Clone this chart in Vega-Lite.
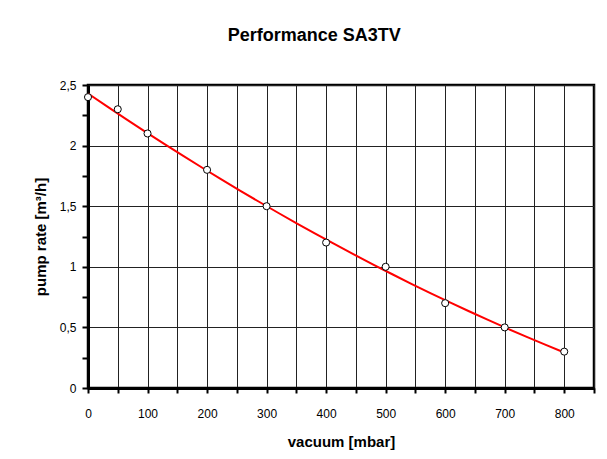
{
  "$schema": "https://vega.github.io/schema/vega-lite/v6.json",
  "width": 506,
  "height": 303,
  "padding": {"left": 33, "top": 27, "right": 13, "bottom": 5},
  "background": "white",
  "title": {
    "text": "Performance SA3TV",
    "font": "Liberation Sans",
    "fontSize": 18,
    "fontWeight": "bold",
    "color": "black",
    "anchor": "middle",
    "frame": "bounds",
    "offset": 34
  },
  "config": {
    "view": {"stroke": "black", "strokeWidth": 2.5},
    "axis": {
      "labelFont": "Liberation Sans",
      "labelFontSize": 12,
      "labelColor": "black",
      "titleFont": "Liberation Sans",
      "titleFontSize": 15,
      "titleFontWeight": "bold",
      "titleColor": "black",
      "domainColor": "black",
      "domainWidth": 3,
      "tickColor": "black",
      "tickWidth": 2,
      "gridColor": "#222222",
      "gridWidth": 1
    }
  },
  "data": {
    "values": [
      {"vacuum": 0, "pump": 2.4},
      {"vacuum": 50, "pump": 2.3},
      {"vacuum": 100, "pump": 2.1},
      {"vacuum": 200, "pump": 1.8},
      {"vacuum": 300, "pump": 1.5},
      {"vacuum": 400, "pump": 1.2},
      {"vacuum": 500, "pump": 1.0},
      {"vacuum": 600, "pump": 0.7},
      {"vacuum": 700, "pump": 0.5},
      {"vacuum": 800, "pump": 0.3}
    ]
  },
  "encoding": {
    "x": {
      "field": "vacuum",
      "type": "quantitative",
      "scale": {"domain": [0, 850], "nice": false},
      "axis": {
        "title": "vacuum [mbar]",
        "values": [0, 50, 100, 150, 200, 250, 300, 350, 400, 450, 500, 550, 600, 650, 700, 750, 800, 850],
        "labelExpr": "datum.value % 100 == 0 && datum.value <= 800 ? datum.value : ''",
        "tickSize": 5,
        "labelPadding": 15,
        "titlePadding": 15,
        "grid": true,
        "labelFlush": false,
        "labelOverlap": false
      }
    },
    "y": {
      "field": "pump",
      "type": "quantitative",
      "scale": {"domain": [0, 2.5], "nice": false},
      "axis": {
        "title": "pump rate [m³/h]",
        "values": [0, 0.25, 0.5, 0.75, 1, 1.25, 1.5, 1.75, 2, 2.25, 2.5],
        "labelExpr": "datum.value % 0.5 == 0 ? replace(toString(datum.value), '.', ',') : ''",
        "tickSize": 6,
        "labelPadding": 6,
        "titlePadding": 11,
        "grid": true,
        "gridOpacity": {"condition": {"test": "datum.value % 0.5 == 0", "value": 1}, "value": 0},
        "labelFlush": false,
        "labelOverlap": false
      }
    }
  },
  "layer": [
    {
      "transform": [
        {"regression": "pump", "on": "vacuum", "method": "poly", "order": 2, "extent": [0, 800]}
      ],
      "mark": {"type": "line", "color": "#ff0000", "strokeWidth": 2},
      "encoding": {}
    },
    {
      "mark": {"type": "point", "shape": "circle", "filled": true, "fill": "white", "stroke": "black", "strokeWidth": 1, "size": 50, "opacity": 1},
      "encoding": {}
    }
  ]
}
